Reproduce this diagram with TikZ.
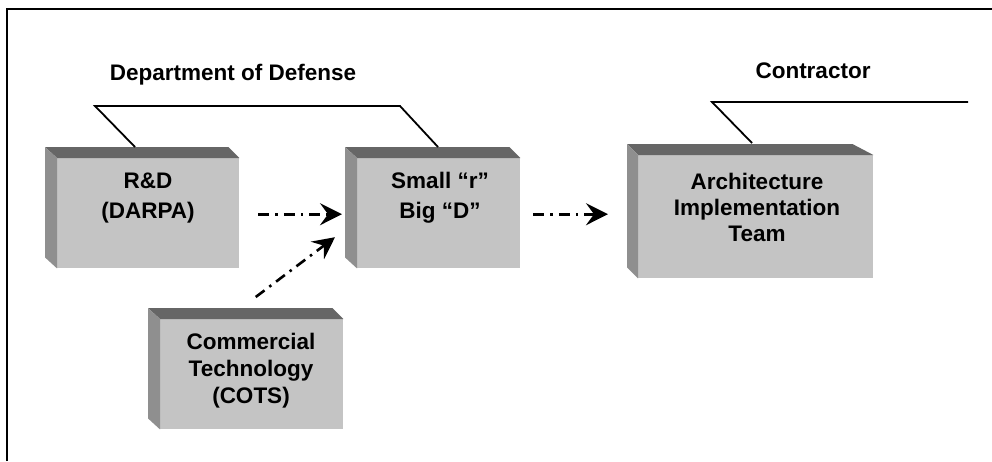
\documentclass[tikz,border=0pt]{standalone}
\usepackage{fontspec}
\setmainfont{Liberation Sans}
\usetikzlibrary{arrows.meta,calc}
\definecolor{facefront}{HTML}{C4C4C4}
\definecolor{facetop}{HTML}{666666}
\definecolor{faceside}{HTML}{8F8F8F}
\tikzset{
  front/.style={fill=facefront, draw=none, inner sep=0pt, anchor=north west},
  boxtxt/.style={font=\bfseries\fontsize{22.5}{30}\selectfont, align=center, inner sep=0pt},
  title/.style={font=\bfseries\fontsize{22.5}{27}\selectfont, inner sep=0pt},
  bracket/.style={line width=1.8pt},
  flow/.style={line width=2.6pt, dash pattern=on 11pt off 6pt on 2.5pt off 6pt,
    -{Stealth[length=22pt,width=22pt,inset=8pt]}}
}
\newcommand{\bevelbox}[3]{% name, topright offset, depth
  \fill[facetop] (#1.north west) -- ++(-#3,-11) -- ($(#1.north east)+(-#2,-11)$) -- (#1.north east) -- cycle;
  \fill[faceside] (#1.north west) -- ++(-#3,-11) -- ($(#1.south west)+(-#3,-11)$) -- (#1.south west) -- cycle;
}
\begin{document}
\begin{tikzpicture}[x=1pt,y=-1pt]
\useasboundingbox (0,0) rectangle (992,461);
\fill[white] (0,0) rectangle (992,461);
% frame
\draw[line width=1.5pt] (7,461) -- (7,9) -- (992,9);
% boxes
\node[front, minimum width=182pt, minimum height=110pt] (rd) at (57,158) {};
\node[front, minimum width=163pt, minimum height=110pt] (sr) at (357,158) {};
\node[front, minimum width=235pt, minimum height=123pt] (arch) at (638,155) {};
\node[front, minimum width=183pt, minimum height=110pt] (cots) at (160,319) {};
\bevelbox{rd}{11}{12}
\bevelbox{sr}{11}{12}
\bevelbox{arch}{21}{11}
\bevelbox{cots}{11}{12}
% box texts
\node[boxtxt] (rdt) at (148,198) {R\&D\\(DARPA)};
\node[boxtxt] (srt) at (440,198) {Small “r”\\Big “D”};
\node[boxtxt, font=\bfseries\fontsize{22.5}{26}\selectfont] (archt) at (757,207) {Architecture\\Implementation\\Team};
\node[boxtxt, font=\bfseries\fontsize{22.5}{27}\selectfont] (cotst) at (251,371) {Commercial\\Technology\\(COTS)};
% group titles
\node[title] (dod) at (233,75) {Department of Defense};
\node[title] (con) at (813,71) {Contractor};
% brackets
\coordinate (dodl) at (95,106);
\coordinate (dodr) at (400,106);
\coordinate (conl) at (712,102);
\coordinate (conr) at (968,102);
\draw[bracket] ($(rd.north west)+(78,-11)$) -- (dodl) -- (dodr) -- ($(sr.north west)+(81,-11)$);
\draw[bracket] ($(arch.north west)+(114,-12)$) -- (conl) -- (conr);
% flows
\draw[flow] ($(rd.east)+(19,1)$) -- ($(sr.west)+(-15,1)$);
\draw[flow] ($(cots.north)+(4,-22)$) -- ($(sr.west)+(-22,24)$);
\draw[flow] ($(sr.east)+(13,1)$) -- ($(arch.west |- sr.east)+(-30,1)$);
\end{tikzpicture}
\end{document}
